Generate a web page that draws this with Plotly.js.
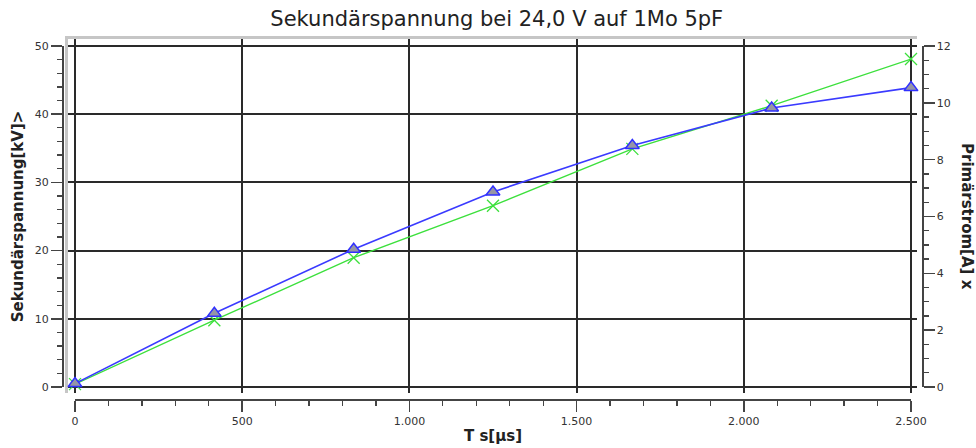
<!DOCTYPE html>
<html>
<head>
<meta charset="utf-8">
<script src="https://cdn.plot.ly/plotly-3.0.1.min.js"></script>
<style>html,body{margin:0;padding:0;background:#fff;}#chart{width:976px;height:448px;}</style>
</head>
<body>
<div id="chart"></div>
<script>
// ---- data ----
var timeUs = [0, 416.7, 833.3, 1250, 1666.7, 2083.3, 2500];
var sekundaerKV = [0.5, 10.8, 20.2, 28.6, 35.4, 40.9, 43.9];
var primaerA = [0.1, 2.35, 4.55, 6.38, 8.38, 9.9, 11.54];

var chartTitle = 'Sekundärspannung bei 24,0 V auf 1Mo 5pF';
var xTitle = 'T s[µs]';
var yLeftTitle = 'Sekundärspannung[kV]>';
var yRightTitle = 'Primärstrom[A] x';

var FONT = 'DejaVu Sans, sans-serif';
var AXC = '#444444';
var GRIDC = '#2a2a2a';
var TICKFONT = {family: FONT, size: 11, color: '#333333'};
var TITLEFONT = {family: FONT, size: 15, color: '#222222', weight: 'bold'};

var traces = [
  { // grid carrier (no data)
    type: 'scatter', x: [], y: [], xaxis: 'x', yaxis: 'y',
    hoverinfo: 'skip', showlegend: false
  },
  {
    type: 'scatter', mode: 'lines+markers', name: yRightTitle,
    x: timeUs, y: primaerA, xaxis: 'x2', yaxis: 'y2', cliponaxis: false,
    line: {color: '#3ce03c', width: 1.4},
    marker: {symbol: 'x-thin-open', size: 12, color: '#3ce03c', line: {color: '#3ce03c', width: 1.3}}
  },
  {
    type: 'scatter', mode: 'lines+markers', name: yLeftTitle,
    x: timeUs, y: sekundaerKV, xaxis: 'x2', yaxis: 'y3', cliponaxis: false,
    line: {color: '#3a3aff', width: 1.6},
    marker: {symbol: 'triangle-up', size: 12, color: '#9696a6', line: {color: '#3030ff', width: 1.5}}
  }
];

var layout = {
  width: 976, height: 448,
  margin: {l: 62, r: 54, t: 39, b: 49, pad: 0},
  paper_bgcolor: '#ffffff',
  plot_bgcolor: 'rgba(0,0,0,0)',
  showlegend: false,
  separators: ',.',
  font: {family: FONT, color: '#333'},
  title: {
    text: chartTitle,
    font: {family: FONT, size: 21, color: '#222222'},
    x: 0.509, xref: 'container', xanchor: 'center',
    y: 0.958, yref: 'container', yanchor: 'middle'
  },
  // grid axes (slightly larger than the data area)
  xaxis: {
    domain: [0.006977, 0.994186], range: [-20.93, 2517.94],
    anchor: 'y', side: 'top',
    showgrid: true, gridcolor: GRIDC, gridwidth: 2,
    tick0: 0, dtick: 500,
    showticklabels: false, ticks: '', zeroline: false,
    showline: true, linecolor: '#c6c6c6', linewidth: 3,
    fixedrange: true
  },
  yaxis: {
    domain: [0.016667, 1], range: [-0.88, 51.03],
    anchor: 'x', side: 'left',
    showgrid: true, gridcolor: GRIDC, gridwidth: 2,
    tick0: 0, dtick: 10,
    showticklabels: false, ticks: '', zeroline: false,
    showline: true, linecolor: '#c6c6c6', linewidth: 3,
    fixedrange: true
  },
  // data axes
  xaxis2: {
    domain: [0.015116, 0.987209], range: [0, 2500],
    anchor: 'free', position: 0,
    showgrid: false, zeroline: false,
    showline: true, linecolor: AXC, linewidth: 1.5,
    ticks: 'outside', ticklen: 11, tickwidth: 1.5, tickcolor: AXC,
    tick0: 0, dtick: 500, separatethousands: true,
    minor: {dtick: 100, ticks: 'outside', ticklen: 5, tickwidth: 1.3, tickcolor: AXC, showgrid: false},
    tickfont: TICKFONT,
    title: {text: xTitle, font: TITLEFONT, standoff: 4},
    fixedrange: true
  },
  yaxis2: {
    domain: [0.033333, 0.980556], range: [0, 12],
    anchor: 'free', position: 1, side: 'right',
    showgrid: false, zeroline: false,
    showline: true, linecolor: AXC, linewidth: 1.5,
    ticks: 'outside', ticklen: 11, tickwidth: 1.5, tickcolor: AXC,
    tick0: 0, dtick: 2,
    minor: {dtick: 0.5, ticks: 'outside', ticklen: 5, tickwidth: 1.3, tickcolor: AXC, showgrid: false},
    tickfont: TICKFONT,
    fixedrange: true
  },
  yaxis3: {
    overlaying: 'y2', range: [0, 50],
    anchor: 'free', position: 0, side: 'left',
    showgrid: false, zeroline: false,
    showline: true, linecolor: AXC, linewidth: 1.5,
    ticks: 'outside', ticklen: 11, tickwidth: 1.5, tickcolor: AXC,
    tick0: 0, dtick: 10,
    minor: {dtick: 2, ticks: 'outside', ticklen: 5, tickwidth: 1.3, tickcolor: AXC, showgrid: false},
    tickfont: TICKFONT,
    title: {text: yLeftTitle, font: TITLEFONT, standoff: 6},
    fixedrange: true
  },
  annotations: [
    {
      text: yRightTitle, textangle: 90, showarrow: false,
      xref: 'paper', yref: 'paper',
      x: (967 - 62) / 860, y: (399 - 216) / 360,
      xanchor: 'center', yanchor: 'middle',
      font: TITLEFONT
    }
  ]
};

Plotly.newPlot('chart', traces, layout, {displayModeBar: false, staticPlot: true});
</script>
</body>
</html>
